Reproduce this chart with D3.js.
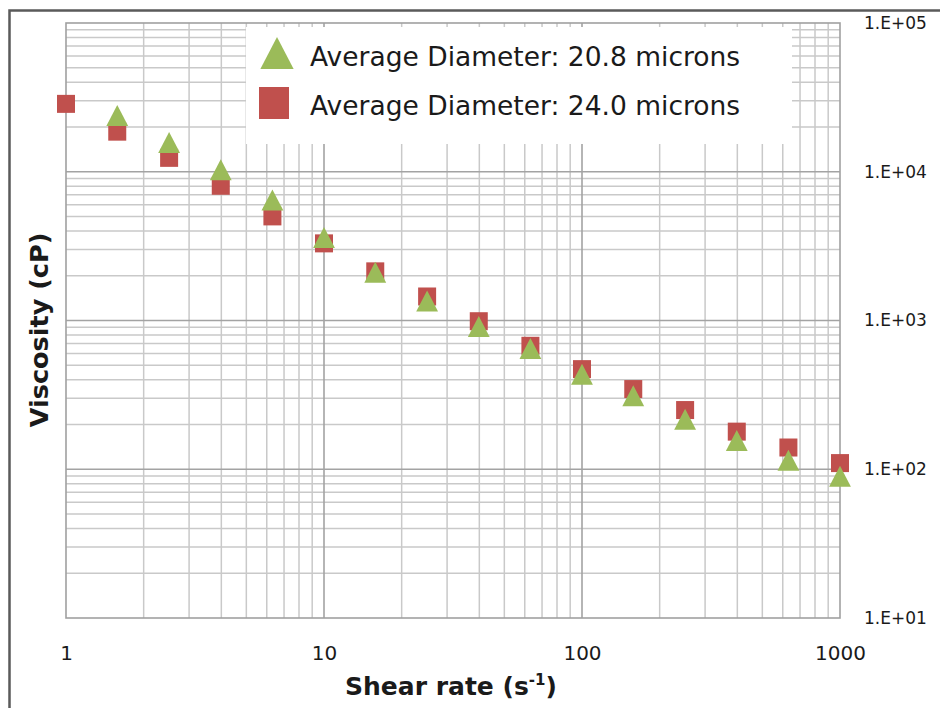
<!DOCTYPE html>
<html>
<head>
<meta charset="utf-8">
<script src="https://cdn.jsdelivr.net/npm/d3@7/dist/d3.min.js"></script>
<style>
  html, body { margin: 0; padding: 0; background: #fff; }
  svg { display: block; }
  text { font-family: "DejaVu Sans", sans-serif; fill: #1a1a1a; }
</style>
</head>
<body>
<svg id="chart" width="940" height="708"></svg>
<script>
// ---- Data ----
const shearRate = [1, 1.58, 2.51, 3.98, 6.31, 10, 15.8, 25.1, 39.8, 63.1, 100, 158, 251, 398, 631, 1000];
const visc208 = [null, 23900, 15700, 10300, 6460, 3620, 2110, 1350, 912, 649, 436, 312, 217, 156, 115, 89.8];
const visc240 = [28600, 18600, 12400, 8050, 5010, 3300, 2140, 1450, 989, 676, 471, 346, 250, 179, 140, 110];
const seriesNames = ["Average Diameter: 20.8 microns", "Average Diameter: 24.0 microns"];
const xTickValues = [1, 10, 100, 1000];
const yTickValues = [10, 100, 1000, 10000, 100000];
const yTickLabels = ["1.E+01", "1.E+02", "1.E+03", "1.E+04", "1.E+05"];

(function () {
// ---- Layout ----
const svg = d3.select("#chart");
const pL = 66, pR = 840, pT = 23, pB = 618;
const x = d3.scaleLog().domain([1, 1000]).range([pL, pR]);
const y = d3.scaleLog().domain([10, 100000]).range([pB, pT]);

// outer frame (right/bottom edges outside the picture)
svg.append("rect").attr("x", 9.5).attr("y", 10.5).attr("width", 960).attr("height", 720)
  .attr("fill", "#fff").attr("stroke", "#5a5a5a").attr("stroke-width", 2.5);

// grid lines
const minorX = [];
for (let d = 1; d < 1000; d *= 10) for (let k = 2; k <= 9; k++) minorX.push(d * k);
const majorX = [10, 100];
const minorY = [];
for (let d = 10; d < 100000; d *= 10) for (let k = 2; k <= 9; k++) minorY.push(d * k);
const majorY = [100, 1000, 10000];

const g = svg.append("g");
g.selectAll("line.mx").data(minorX).join("line")
  .attr("x1", d => x(d)).attr("x2", d => x(d)).attr("y1", pT).attr("y2", pB)
  .attr("stroke", "#c9c9c9").attr("stroke-width", 1.5);
g.selectAll("line.my").data(minorY).join("line")
  .attr("y1", d => y(d)).attr("y2", d => y(d)).attr("x1", pL).attr("x2", pR)
  .attr("stroke", "#c9c9c9").attr("stroke-width", 1.5);
g.selectAll("line.Mx").data(majorX).join("line")
  .attr("x1", d => x(d)).attr("x2", d => x(d)).attr("y1", pT).attr("y2", pB)
  .attr("stroke", "#a3a3a3").attr("stroke-width", 1.6);
g.selectAll("line.My").data(majorY).join("line")
  .attr("y1", d => y(d)).attr("y2", d => y(d)).attr("x1", pL).attr("x2", pR)
  .attr("stroke", "#a3a3a3").attr("stroke-width", 1.6);

// plot border
svg.append("rect").attr("x", pL).attr("y", pT).attr("width", pR - pL).attr("height", pB - pT)
  .attr("fill", "none").attr("stroke", "#a0a0a0").attr("stroke-width", 1.6);

// legend background (covers grid)
svg.append("rect").attr("x", 246).attr("y", 27).attr("width", 546).attr("height", 117).attr("fill", "#fff");

// axes (labels only)
const xAxis = d3.axisBottom(x).tickValues(xTickValues).tickFormat(d3.format("d")).tickSize(0).tickPadding(0);
const xa = svg.append("g").attr("transform", `translate(0,${pB})`).call(xAxis);
xa.select(".domain").remove();
xa.selectAll("text").attr("dy", null).attr("y", 42)
  .style("font-family", "DejaVu Sans").style("font-size", "20px").attr("fill", "#1a1a1a");

const yAxis = d3.axisRight(y).tickValues(yTickValues)
  .tickFormat(d => yTickLabels[yTickValues.indexOf(d)]).tickSize(0).tickPadding(24);
const ya = svg.append("g").attr("transform", `translate(${pR},0)`).call(yAxis);
ya.select(".domain").remove();
ya.selectAll("text").style("font-family", "DejaVu Sans").style("font-size", "17px").attr("fill", "#1a1a1a");

// markers
const green = "#9bbb59", red = "#c0504d";
const sq = 18, tri = 21;
const triPath = s => `M0,${-s / 2}L${s * 0.52},${s / 2}L${-s * 0.52},${s / 2}Z`;

const pts240 = shearRate.map((r, i) => ({ r, v: visc240[i] })).filter(d => d.v != null);
const pts208 = shearRate.map((r, i) => ({ r, v: visc208[i] })).filter(d => d.v != null);

svg.append("g").selectAll("rect").data(pts240).join("rect")
  .attr("x", d => x(d.r) - sq / 2).attr("y", d => y(d.v) - sq / 2)
  .attr("width", sq).attr("height", sq).attr("fill", red);

svg.append("g").selectAll("path").data(pts208).join("path")
  .attr("transform", d => `translate(${x(d.r)},${y(d.v)})`)
  .attr("d", triPath(tri)).attr("fill", green);

// legend
const lg = svg.append("g");
lg.append("path").attr("transform", "translate(277,53)").attr("d", triPath(32)).attr("fill", green);
lg.append("rect").attr("x", 259).attr("y", 87).attr("width", 30).attr("height", 32).attr("fill", red);
lg.selectAll("text").data(seriesNames).join("text")
  .attr("x", 310).attr("y", (d, i) => 66 + i * 49)
  .style("font-size", "26.5px").text(d => d);

// axis titles
const xt = svg.append("text").attr("x", 451).attr("y", 695).attr("text-anchor", "middle")
  .style("font-size", "25px").style("font-weight", "bold");
xt.append("tspan").text("Shear rate (s");
xt.append("tspan").text("-1").attr("dy", -10).style("font-size", "15px");
xt.append("tspan").text(")").attr("dy", 10);

svg.append("text").attr("transform", "translate(48,330) rotate(-90)").attr("text-anchor", "middle")
  .style("font-size", "25.5px").style("font-weight", "bold").text("Viscosity (cP)");
})();
</script>
</body>
</html>
